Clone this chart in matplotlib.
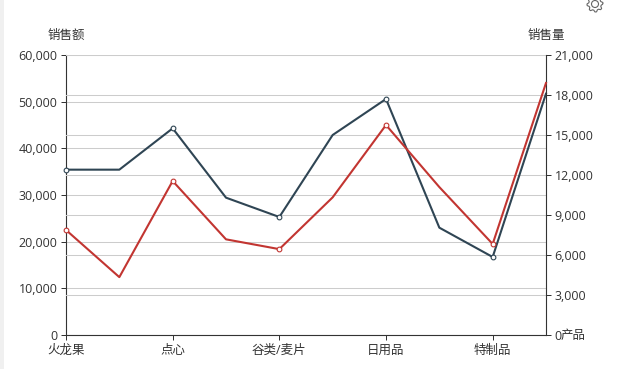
import numpy as np
import matplotlib.pyplot as plt
from matplotlib.patches import Rectangle, Polygon, Circle

plt.rcParams['font.family'] = ['Open Sans', 'Noto Sans CJK SC', 'DejaVu Sans']

categories = ['火龙果', '', '点心', '', '谷类/麦片', '', '日用品', '', '特制品', '']
sales_amount = [22500, 12400, 33000, 20500, 18400, 29500, 45000, 31700, 19500, 54000]
sales_count = [12400, 12400, 15500, 10300, 8850, 15000, 17700, 8050, 5850, 18100]
left_ticks = [0, 10000, 20000, 30000, 40000, 50000, 60000]
right_ticks = [0, 3000, 6000, 9000, 12000, 15000, 18000, 21000]

W, H = 639, 369
TEXT = '#333333'
GRID = '#cccccc'
RED = '#c23531'
BLUE = '#2f4554'
FS = 9

fig = plt.figure(figsize=(W / 100, H / 100), dpi=100)
fig.patch.set_facecolor('white')
# серая полоса слева
fig.add_artist(Rectangle((0, 0), 4 / W, 1, transform=fig.transFigure, color='#f0f0f0', lw=0))

rect = [66 / W, 1 - 335 / H, 480 / W, 280 / H]
ax = fig.add_axes(rect)
ax.set_xlim(0, 9)
ax.set_ylim(0, 60000)
ax.set_xticks(range(0, 9, 2))
ax.set_xticklabels(categories[0::2])
ax.set_yticks(left_ticks)
ax.set_yticklabels([f'{v:,}' for v in left_ticks])
ax.grid(axis='y', color=GRID, lw=0.75)
ax.set_axisbelow(True)

ax2 = ax.twinx()
ax2.set_ylim(0, 21000)
ax2.set_yticks(right_ticks)
ax2.set_yticklabels([f'{v:,}' for v in right_ticks])
ax2.grid(axis='y', color=GRID, lw=0.75)
ax2.set_axisbelow(True)
ax2.plot(range(10), sales_count, color=BLUE, lw=1.5, marker='o', ms=3.4, mfc='white',
         mec=BLUE, mew=0.8, markevery=2, clip_on=False)

# красная линия поверх синей
ax3 = ax.twinx()
ax3.set_ylim(0, 60000)
ax3.axis('off')
ax3.plot(range(10), sales_amount, color=RED, lw=1.5, marker='o', ms=3.4, mfc='white',
         mec=RED, mew=0.8, markevery=2, clip_on=False)

ax.spines['right'].set_visible(False)
ax2.spines['left'].set_visible(False)
ax2.spines['bottom'].set_visible(False)
for a in (ax, ax2):
    a.spines['top'].set_visible(False)
    for s in a.spines.values():
        s.set_color(TEXT)
        s.set_linewidth(0.8)
    a.tick_params(axis='both', length=3.6, width=0.72, color=TEXT, labelcolor=TEXT,
                  labelsize=FS, pad=2.5)
ax.tick_params(axis='x', pad=3)

ax3.text(0, 62800, '销售额', ha='center', va='bottom', fontsize=FS, color=TEXT)
ax3.text(9, 62800, '销售量', ha='center', va='bottom', fontsize=FS, color=TEXT)
fig.text(561 / W, 1 - 335 / H, '产品', ha='left', va='center', fontsize=FS, color=TEXT)

# значок шестерёнки
cx, cy = 595, H - 4
angles = np.linspace(0, 2 * np.pi, 33)[:-1]
radii = np.tile([8, 8, 6.3, 6.3], 8)
gear = np.column_stack([cx + radii * np.cos(angles), cy + radii * np.sin(angles)])
fig.add_artist(Polygon(gear, closed=True, fill=False, ec='#666666', lw=0.8, transform=None))
fig.add_artist(Circle((cx, cy), 3.5, fill=False, ec='#666666', lw=0.8, transform=None))

fig.savefig('out.png', dpi=100)
